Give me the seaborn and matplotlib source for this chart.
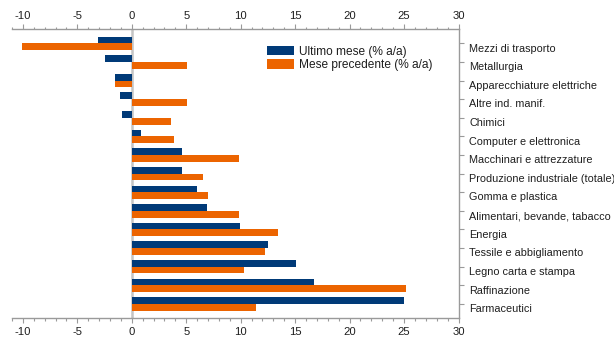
import matplotlib
matplotlib.use("Agg")
import matplotlib.pyplot as plt
from matplotlib.ticker import MultipleLocator
from matplotlib.transforms import ScaledTranslation
import seaborn as sns
import pandas as pd

# Sectors, top to bottom
sectors = [
    "Mezzi di trasporto",
    "Metallurgia",
    "Apparecchiature elettriche",
    "Altre ind. manif.",
    "Chimici",
    "Computer e elettronica",
    "Macchinari e attrezzature",
    "Produzione industriale (totale)",
    "Gomma e plastica",
    "Alimentari, bevande, tabacco",
    "Energia",
    "Tessile e abbigliamento",
    "Legno carta e stampa",
    "Raffinazione",
    "Farmaceutici",
]

# Year-on-year change (%)
ultimo_mese = [-3.1, -2.5, -1.5, -1.1, -0.9, 0.8, 4.6, 4.6, 6.0, 6.9, 9.9, 12.5, 15.1, 16.7, 25.0]
mese_precedente = [-10.1, 5.1, -1.5, 5.1, 3.6, 3.9, 9.8, 6.5, 7.0, 9.8, 13.4, 12.2, 10.3, 25.2, 11.4]

series_names = ["Ultimo mese (% a/a)", "Mese precedente (% a/a)"]
x_ticks = [-10, -5, 0, 5, 10, 15, 20, 25, 30]

BLUE = "#003A78"
ORANGE = "#EC6400"
GRID = "#9a9a9a"
TEXT = "#1e1e1e"

df = pd.DataFrame({
    "Settore": sectors * 2,
    "Valore": ultimo_mese + mese_precedente,
    "Serie": [series_names[0]] * len(sectors) + [series_names[1]] * len(sectors),
})

sns.set_theme(style="white")
plt.rcParams["font.family"] = ["Liberation Sans", "DejaVu Sans"]
plt.rcParams["axes.unicode_minus"] = False

fig = plt.figure(figsize=(6.14, 3.4), dpi=100)
ax = fig.add_axes([12 / 614, 1 - 318.3 / 340, (458.5 - 12) / 614, (318.3 - 29) / 340])

# zero reference line under the bars
ax.axvline(0, color="#c4c4c4", lw=1.8, zorder=0)

sns.barplot(
    data=df, y="Settore", x="Valore", hue="Serie",
    order=sectors, hue_order=series_names,
    palette=[BLUE, ORANGE], orient="h", width=0.72,
    saturation=1, errorbar=None, ax=ax, zorder=2, linewidth=0,
)

ax.set_xlim(-11, 30)
ax.set_ylim(len(sectors) - 1 + 0.77, -0.77)
ax.set_xlabel("")
ax.set_ylabel("")

ax.set_xticks(x_ticks)
ax.xaxis.set_minor_locator(MultipleLocator(1))
ax.tick_params(axis="x", which="both", top=True, bottom=True,
               labeltop=True, labelbottom=True, direction="out",
               color=GRID, width=0.8, labelcolor=TEXT, labelsize=8.1, pad=2.5)
ax.tick_params(axis="x", which="major", length=3.6)
ax.tick_params(axis="x", which="minor", length=1.8)

ax.yaxis.tick_right()
ax.tick_params(axis="y", which="major", right=True, left=False, direction="out",
               length=3.6, width=0.8, color=GRID, labelcolor=TEXT,
               labelsize=7.8, pad=4)
# sector names sit slightly below their tick marks
shift = ScaledTranslation(0, -3 / 72, fig.dpi_scale_trans)
for lbl in ax.get_yticklabels():
    lbl.set_transform(lbl.get_transform() + shift)

for side in ["top", "bottom", "right"]:
    ax.spines[side].set_visible(True)
    ax.spines[side].set_color(GRID)
    ax.spines[side].set_linewidth(1.0)
ax.spines["left"].set_visible(False)

handles, labels = ax.get_legend_handles_labels()
ax.legend(
    handles, labels, loc="upper left",
    bbox_to_anchor=(267 / 614, 1 - 46 / 340), bbox_transform=fig.transFigure,
    frameon=False, fontsize=8.6, handlelength=2.25, handleheight=0.8,
    handletextpad=0.4, labelspacing=0.1, borderpad=0, borderaxespad=0,
    labelcolor=TEXT,
)

fig.savefig("out.png", dpi=100)
